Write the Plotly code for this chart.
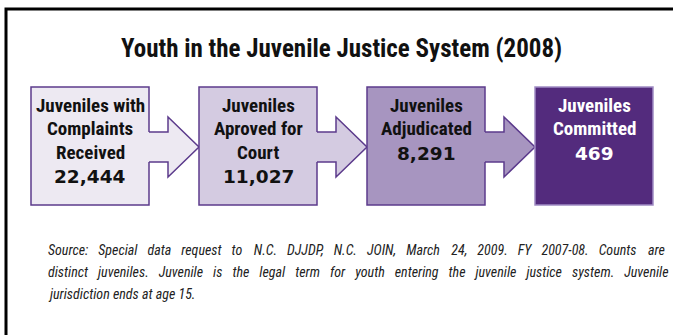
import plotly.graph_objects as go

# ---- data ----
stage_labels = [
    ["Juveniles with", "Complaints", "Received"],
    ["Juveniles", "Aproved for", "Court"],
    ["Juveniles", "Adjudicated"],
    ["Juveniles", "Committed"],
]
stage_values = [22444, 11027, 8291, 469]
stage_fills = ["#ede9f2", "#d4cbe1", "#a795c0", "#532b7d"]
stage_borders = ["#5c3b8c", "#5c3b8c", "#5c3b8c", "#a08cc4"]
text_colors = ["#111111", "#111111", "#111111", "#ffffff"]
title_text = "Youth in the Juvenile Justice System (2008)"
source_lines = [
    "Source: Special data request to N.C. DJJDP, N.C. JOIN, March 24, 2009. FY 2007-08. Counts are",
    "distinct juveniles. Juvenile is the legal term for youth entering the juvenile justice system. Juvenile",
    "jurisdiction ends at age 15.",
]
# word-gap fillers (cycled) used to imitate the justified paragraph
base_gap = " \u2009\u2009\u200a"
source_gaps = [
    [base_gap, base_gap, base_gap, base_gap, base_gap + "\u200a"],
    [base_gap],
    [" "],
]

# ---- layout constants ----
W, H = 673, 335
box_x0, box_step, box_w = 31, 168, 118
box_top, box_bot = 87, 205
shaft_len = 19
shaft_top, shaft_bot = 132, 162
head_top, head_bot = 117, 177
line_y0, line_dy = 105, 23.5

label_font = "Roboto Condensed, Roboto, sans-serif"
num_font = "DejaVu Sans, Verdana, sans-serif"

fig = go.Figure()
shapes = []
annotations = []

# outer frame (only left and top edges are visible in the crop)
shapes.append(dict(type="path", xref="x", yref="y", path=f"M 6,{H + 30} L 6,9 L {W + 30},9",
                   line=dict(color="black", width=3), layer="below"))

n = len(stage_values)
for i in range(n):
    x0 = box_x0 + i * box_step
    x1 = x0 + box_w
    cx = (x0 + x1) / 2
    shapes.append(dict(type="rect", xref="x", yref="y", x0=x0, y0=box_top, x1=x1, y1=box_bot,
                       line=dict(color=stage_borders[i], width=1.5), fillcolor=stage_fills[i]))
    if i < n - 1:
        sx = x1 + shaft_len
        tip = box_x0 + (i + 1) * box_step
        mid = (head_top + head_bot) / 2
        fill_path = (f"M {x1 - 1},{shaft_top} L {sx},{shaft_top} L {sx},{head_top} L {tip},{mid} "
                     f"L {sx},{head_bot} L {sx},{shaft_bot} L {x1 - 1},{shaft_bot} Z")
        shapes.append(dict(type="path", xref="x", yref="y", path=fill_path,
                           fillcolor=stage_fills[i], line=dict(width=0)))
        out_path = (f"M {x1},{shaft_top} L {sx},{shaft_top} L {sx},{head_top} L {tip},{mid} "
                    f"L {sx},{head_bot} L {sx},{shaft_bot} L {x1},{shaft_bot}")
        shapes.append(dict(type="path", xref="x", yref="y", path=out_path,
                           line=dict(color="#5c3b8c", width=1.5)))
    lines = stage_labels[i]
    for j, t in enumerate(lines):
        annotations.append(dict(x=cx, y=line_y0 + j * line_dy, xref="x", yref="y", text=f"<b>{t}</b>",
                                showarrow=False, xanchor="center", yanchor="middle",
                                font=dict(family=label_font, size=19, color=text_colors[i])))
    annotations.append(dict(x=cx, y=line_y0 + len(lines) * line_dy + 1, xref="x", yref="y",
                            text=f"<b>{stage_values[i]:,}</b>",
                            showarrow=False, xanchor="center", yanchor="middle",
                            font=dict(family=num_font, size=18.5, color=text_colors[i])))

# title
annotations.append(dict(x=341, y=48, xref="x", yref="y", text=f"<b>{title_text}</b>",
                        showarrow=False, xanchor="center", yanchor="middle",
                        font=dict(family=label_font, size=25, color="#111111")))

# source note
for k, t in enumerate(source_lines):
    words = t.split(" ")
    g = source_gaps[k]
    txt = words[0]
    for w_i, w in enumerate(words[1:]):
        txt += g[w_i % len(g)] + w
    annotations.append(dict(x=46, y=250 + k * 22, xref="x", yref="y", text=f"<i>{txt}</i>",
                            showarrow=False, xanchor="left", yanchor="middle",
                            font=dict(family=label_font, size=14, color="#222222")))

fig.update_layout(
    width=W, height=H, margin=dict(l=0, r=0, t=0, b=0),
    paper_bgcolor="white", plot_bgcolor="white",
    xaxis=dict(range=[0, W], visible=False, fixedrange=True),
    yaxis=dict(range=[H, 0], visible=False, fixedrange=True),
    shapes=shapes, annotations=annotations, showlegend=False,
)
fig.write_html("out.html")
